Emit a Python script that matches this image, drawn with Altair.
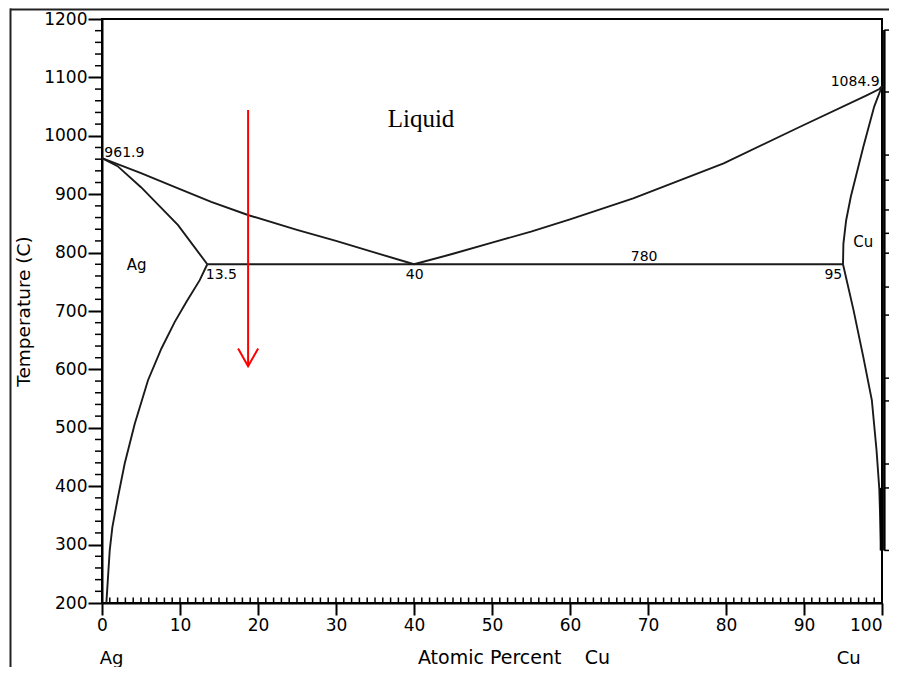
import altair as alt
import pandas as pd

FONT = "DejaVu Sans"
INK = "#1a1a1a"

# ---- phase boundaries (x = atomic % Cu, t = temperature in C) ----
liq_ag_x = [0, 5, 9.6, 14, 18.8, 25, 30, 35, 40]
liq_ag_t = [961.9, 936, 911, 887, 864, 839, 820, 800, 780]
sol_ag_x = [0, 2, 5, 7.5, 9.75, 13.5]
sol_ag_t = [961.9, 948, 912, 878, 847, 780]
solv_ag_x = [13.5, 12.53, 10.83, 9.33, 7.62, 5.9, 4.2, 2.91, 2.05, 1.33, 0.99, 0.77, 0.56]
solv_ag_t = [780, 752.8, 715.7, 681.4, 635.8, 581.5, 507, 438.8, 381.6, 330, 290, 244.5, 200]
liq_cu_x = [40, 45, 50, 55, 60, 68.1, 79.7, 89.5, 98.1, 99.6, 100]
liq_cu_t = [780, 798, 817, 836, 857, 892.8, 952.8, 1015.5, 1069.8, 1079.6, 1084.9]
sol_cu_x = [100, 99, 97.6, 96.0, 95.4, 95.05, 95]
sol_cu_t = [1084.9, 1050, 981, 895.6, 855, 815, 780]
solv_cu_x = [95, 96.35, 97.6, 98.7, 99.3, 99.65, 99.9]
solv_cu_t = [780, 701.5, 621.5, 547, 461.6, 396, 290]
eut_x = [13.5, 95]
eut_t = [780, 780]

# red arrow
arrow_x = [18.73, 18.73]
arrow_t = [1044, 605.5]
head_x = [17.45, 18.73, 20.02]
head_t = [635.8, 605.5, 635.8]

# axis ticks
x_major = list(range(0, 101, 10))
x_minor = list(range(0, 101, 1))
y_major = list(range(200, 1201, 100))
y_minor = [v for v in range(220, 1200, 20) if v % 100 != 0]

# annotations inside the plot
ann_small_labels = ["961.9", "1084.9", "780"]
ann_small_x = [0.3, 99.7, 69.5]
ann_small_t = [961.9, 1084.9, 780]
ann_small_align = ["left", "right", "center"]
ann_small_dy = [-1, 0, -3]

ann_below_labels = ["13.5", "40", "95"]
ann_below_x = [13.3, 40.1, 94.9]
ann_below_align = ["left", "center", "right"]

phase_labels = ["Ag", "Cu"]
phase_x = [4.45, 97.6]
phase_t = [770, 810]

# cut-off neighbour panel at the right edge (temperature levels of its rows)
panel_rows_t = [1181, 1075, 967, 924, 873, 833, 799, 741, 693, 585, 546, 438, 397, 290]

xs = alt.Scale(domain=[0, 100], nice=False, zero=False)
ys = alt.Scale(domain=[200, 1200], nice=False, zero=False)


def curve(name, xv, tv):
    return pd.DataFrame({"curve": name, "x": xv, "t": tv, "i": range(len(xv))})


curves = pd.concat([
    curve("liq_ag", liq_ag_x, liq_ag_t),
    curve("sol_ag", sol_ag_x, sol_ag_t),
    curve("solv_ag", solv_ag_x, solv_ag_t),
    curve("liq_cu", liq_cu_x, liq_cu_t),
    curve("sol_cu", sol_cu_x, sol_cu_t),
    curve("solv_cu", solv_cu_x, solv_cu_t),
    curve("eut", eut_x, eut_t),
])

arrow = pd.concat([curve("shaft", arrow_x, arrow_t), curve("head", head_x, head_t)])

x_axis = alt.Axis(values=x_major, format="d", tickSize=12, tickWidth=2, tickColor="black",
                  domainColor="black", domainWidth=2, labelFont=FONT, labelFontSize=17,
                  labelColor="black", labelPadding=2, labelFlush=False, grid=False, title=None,
                  labelAlign={"condition": {"test": "datum.value >= 100", "value": "right"},
                              "value": "center"})
y_axis = alt.Axis(values=y_major, format="d", tickSize=14, tickWidth=2, tickColor="black",
                  domainColor="black", domainWidth=2, labelFont=FONT, labelFontSize=17,
                  labelColor="black", labelPadding=1, labelFlush=False, grid=False,
                  title="Temperature (C)", titleFont=FONT, titleFontSize=18.5,
                  titleFontWeight="normal", titleColor="black", titlePadding=10)


def X(f="x:Q"):
    return alt.X(f, scale=xs, axis=x_axis)


def Y(f="t:Q"):
    return alt.Y(f, scale=ys, axis=y_axis)


lines = alt.Chart(curves).mark_line(color=INK, strokeWidth=1.9).encode(
    x=X(), y=Y(), detail="curve:N", order="i:Q")

arrow_layer = alt.Chart(arrow).mark_line(color="#ff0000", strokeWidth=2).encode(
    x=X(), y=Y(), detail="curve:N", order="i:Q")

xminor = alt.Chart(pd.DataFrame({"x": x_minor})).mark_rule(color="black", strokeWidth=1.5).encode(
    x=X(), y=alt.value(584), y2=alt.value(578.5))
yminor = alt.Chart(pd.DataFrame({"t": y_minor})).mark_rule(color="black", strokeWidth=1.5).encode(
    y=Y(), x=alt.value(-7), x2=alt.value(0))

small_df = pd.DataFrame({"label": ann_small_labels, "x": ann_small_x, "t": ann_small_t,
                         "align": ann_small_align, "dy": ann_small_dy})
text_layers = []
for _, r in small_df.iterrows():
    text_layers.append(
        alt.Chart(pd.DataFrame([r])).mark_text(font=FONT, fontSize=14, color="black",
                                               align=r["align"], baseline="alphabetic",
                                               dy=float(r["dy"])).encode(
            x=X(), y=Y(), text="label:N"))

below_df = pd.DataFrame({"label": ann_below_labels, "x": ann_below_x, "t": [780] * 3,
                         "align": ann_below_align})
for _, r in below_df.iterrows():
    text_layers.append(
        alt.Chart(pd.DataFrame([r])).mark_text(font=FONT, fontSize=14, color="black",
                                               align=r["align"], baseline="alphabetic",
                                               dy=15).encode(
            x=X(), y=Y(), text="label:N"))

phase = alt.Chart(pd.DataFrame({"label": phase_labels, "x": phase_x, "t": phase_t})).mark_text(
    font=FONT, fontSize=15, color="black", align="center", baseline="alphabetic").encode(
    x=X(), y=Y(), text="label:N")

liquid = alt.Chart(pd.DataFrame({"label": ["Liquid"], "x": [40.9], "t": [1015.5]})).mark_text(
    font="Liberation Serif", fontSize=25, color="black", align="center", baseline="alphabetic").encode(
    x=X(), y=Y(), text="label:N")

# composition labels under the axis
bottom = alt.Chart(pd.DataFrame({"label": ["Ag", "Cu"], "x": [-0.3, 94.2]})).mark_text(
    font=FONT, fontSize=18, color="black", align="left", baseline="alphabetic").encode(
    x=X(), y=alt.value(645), text="label:N")
xtitle = alt.Chart(pd.DataFrame({"label": ["Atomic Percent", "Cu"], "x": [40.5, 61.9]})).mark_text(
    font=FONT, fontSize=19, color="black", align="left", baseline="alphabetic").encode(
    x=X(), y=alt.value(645), text="label:N")

# neighbouring (cut-off) panel at the right edge
panel_rows = alt.Chart(pd.DataFrame({"t": panel_rows_t, "x": [100.3] * len(panel_rows_t),
                                     "x2": [102.0] * len(panel_rows_t)})).mark_rule(
    color="black", strokeWidth=1.5).encode(x=X(), x2="x2:Q", y=Y())
panel_edge = alt.Chart(pd.DataFrame({"x": [100.3], "t": [1181], "t2": [290]})).mark_rule(
    color="black", strokeWidth=2.5).encode(x=X(), y=Y(), y2="t2:Q")
merge_edge = alt.Chart(pd.DataFrame({"x": [99.93], "t": [397], "t2": [290]})).mark_rule(
    color="black", strokeWidth=3.5).encode(x=X(), y=Y(), y2="t2:Q")

one = pd.DataFrame({"a": [0]})
frame_top = alt.Chart(one).mark_rule(color="#222", strokeWidth=2).encode(
    x=alt.value(-92), x2=alt.value(800), y=alt.value(-9.5))
frame_left = alt.Chart(one).mark_rule(color="#222", strokeWidth=2).encode(
    x=alt.value(-91.5), y=alt.value(-10.5), y2=alt.value(700))

chart = alt.layer(
    lines, frame_top, frame_left, xminor, yminor, panel_rows, panel_edge, merge_edge,
    arrow_layer, phase, liquid, bottom, xtitle, *text_layers
).properties(
    width=780, height=584,
    autosize=alt.AutoSizeParams(type="none"),
    padding={"left": 94, "top": 11, "right": 7, "bottom": 64},
    background="white",
).configure_view(stroke="black", strokeWidth=2)

chart.save("out.html", embed_options={"renderer": "svg", "actions": False})
